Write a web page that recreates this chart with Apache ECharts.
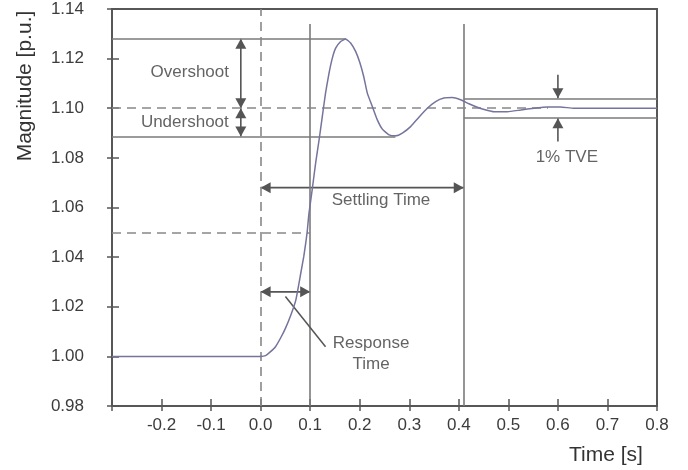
<!DOCTYPE html>
<html><head><meta charset="utf-8">
<script src="https://cdn.jsdelivr.net/npm/echarts@6/dist/echarts.min.js"></script>
<style>html,body{margin:0;padding:0;background:#fff}#c{width:688px;height:470px}</style>
</head><body><div id="c"></div>
<script>
// ---- data ----
const timeS = [-0.3, 0.0, 0.01, 0.02, 0.03, 0.04, 0.05, 0.061, 0.071, 0.081, 0.087, 0.091, 0.094, 0.0975, 0.104, 0.111, 0.118, 0.1245, 0.131, 0.138, 0.1447, 0.1514, 0.1615, 0.1715, 0.1816, 0.1917, 0.2, 0.208, 0.2153, 0.2254, 0.2355, 0.2456, 0.259, 0.2725, 0.286, 0.3027, 0.3195, 0.3364, 0.3532, 0.37, 0.3869, 0.4036, 0.4204, 0.4373, 0.455, 0.471, 0.498, 0.525, 0.552, 0.579, 0.605, 0.632, 0.8];
const magnitude = [1.000, 1.000, 1.0003, 1.0019, 1.0039, 1.0073, 1.0113, 1.0167, 1.0227, 1.0335, 1.0402, 1.0456, 1.0503, 1.0575, 1.0671, 1.0779, 1.0873, 1.0967, 1.1061, 1.1141, 1.1202, 1.1242, 1.1269, 1.1279, 1.1263, 1.1229, 1.1185, 1.1128, 1.1061, 1.1007, 1.0953, 1.0916, 1.0893, 1.0889, 1.0900, 1.0926, 1.0964, 1.1000, 1.1027, 1.1041, 1.1043, 1.1034, 1.1018, 1.1004, 1.0993, 1.0986, 1.0986, 1.0993, 1.1000, 1.1005, 1.1005, 1.1000, 1.1000];

const xRange = [-0.3, 0.8], xStep = 0.1;
const yRange = [0.98, 1.14], yStep = 0.02;

// guide segments [x1, y1, x2, y2]
const solidGuides = [
  [-0.3, 1.128, 0.172, 1.128],
  [-0.3, 1.0886, 0.272, 1.0886],
  [0.41, 1.104, 0.8, 1.104],
  [0.41, 1.096, 0.8, 1.096],
  [0.1, 0.98, 0.1, 1.134],
  [0.41, 0.98, 0.41, 1.134]
];
const dashedGuides = [
  [-0.3, 1.10, 0.58, 1.10],
  [-0.3, 1.05, 0.1, 1.05],
  [0.0, 0.98, 0.0, 1.14]
];
// arrows [x1, y1, x2, y2, headAtStart(0/1)]
const arrows = [
  [-0.04, 1.128, -0.04, 1.10, 1],
  [-0.04, 1.10, -0.04, 1.0886, 1],
  [0.0, 1.068, 0.41, 1.068, 1],
  [0.0, 1.026, 0.1, 1.026, 1],
  [0.6, 1.1135, 0.6, 1.104, 0],
  [0.6, 1.0866, 0.6, 1.096, 0]
];
const leaderLine = [0.05, 1.0241, 0.131, 1.0039];

const noteTexts = ['Overshoot', 'Undershoot', 'Settling Time', 'Response\nTime', '1% TVE'];
const noteX = [-0.143, -0.153, 0.243, 0.223, 0.618];
const noteY = [1.1146, 1.0943, 1.0628, 1.0009, 1.0802];

const yName = 'Magnitude [p.u.]';
const xName = 'Time [s]';

// ---- chart ----
const chart = echarts.init(document.getElementById('c'), null, {renderer: 'canvas'});
const axisColor = '#575757';
const guideColor = '#7a7a7a';
const textColor = '#3c3c3c';
const seg = s => [{coord: [s[0], s[1]]}, {coord: [s[2], s[3]]}];

function baseX(inner) {
  return {
    type: 'value', min: xRange[0], max: xRange[1], interval: xStep, position: 'bottom',
    axisLine: {show: !inner, onZero: false, lineStyle: {color: axisColor, width: 2}},
    axisTick: {show: true, inside: inner, length: inner ? 7 : 5, lineStyle: {color: axisColor, width: 1.5}},
    axisLabel: {show: !inner, margin: 11, color: textColor, fontSize: 17, fontFamily: 'Liberation Sans, Arial, sans-serif',
      formatter: v => (v < xRange[0] + xStep / 2 ? '' : v.toFixed(1))},
    splitLine: {show: false}
  };
}
function baseY(inner) {
  return {
    type: 'value', min: yRange[0], max: yRange[1], interval: yStep, position: 'left',
    axisLine: {show: !inner, onZero: false, lineStyle: {color: axisColor, width: 2}},
    axisTick: {show: true, inside: inner, length: inner ? 7 : 5, lineStyle: {color: axisColor, width: 1.5}},
    axisLabel: {show: !inner, margin: 28, color: textColor, fontSize: 17, fontFamily: 'Liberation Sans, Arial, sans-serif',
      formatter: v => v.toFixed(2)},
    splitLine: {show: false}
  };
}

function head(tip, from, len, half) {
  const dx = tip[0] - from[0], dy = tip[1] - from[1];
  const d = Math.sqrt(dx * dx + dy * dy) || 1;
  const ux = dx / d, uy = dy / d;
  const bx = tip[0] - ux * len, by = tip[1] - uy * len;
  return {type: 'polygon', shape: {points: [tip, [bx - uy * half, by + ux * half], [bx + uy * half, by - ux * half]]},
    style: {fill: '#555'}};
}

const option = {
  animation: false,
  backgroundColor: '#fff',
  grid: {left: 112, top: 9, right: 31, bottom: 64, show: true, borderColor: axisColor, borderWidth: 2},
  xAxis: [baseX(false), baseX(true)],
  yAxis: [baseY(false), baseY(true)],
  graphic: [
    {type: 'text', x: 25, y: 86, rotation: Math.PI / 2,
      style: {text: yName, fill: '#333', font: '21px "Liberation Sans", Arial, sans-serif', textAlign: 'center', textVerticalAlign: 'middle'}},
    {type: 'text', x: 606, y: 455,
      style: {text: xName, fill: '#333', font: '21px "Liberation Sans", Arial, sans-serif', textAlign: 'center', textVerticalAlign: 'middle'}}
  ],
  series: [
    {
      type: 'line', name: 'solid guides', data: [], silent: true,
      markLine: {silent: true, symbol: 'none', label: {show: false},
        lineStyle: {color: guideColor, width: 1.6, type: 'solid'},
        emphasis: {disabled: true},
        data: solidGuides.map(seg)}
    },
    {
      type: 'line', name: 'dashed guides', data: [], silent: true,
      markLine: {silent: true, symbol: 'none', label: {show: false},
        lineStyle: {color: '#888', width: 1.6, type: [9, 6]},
        emphasis: {disabled: true},
        data: dashedGuides.map(seg)}
    },
    {
      type: 'line', name: 'leader', data: [], silent: true,
      markLine: {silent: true, symbol: 'none', label: {show: false},
        lineStyle: {color: '#555', width: 1.5, type: 'solid'},
        emphasis: {disabled: true},
        data: [seg(leaderLine)]}
    },
    {
      type: 'custom', name: 'arrows', silent: true, z: 4,
      data: arrows,
      encode: {x: [0, 2], y: [1, 3]},
      renderItem: (params, api) => {
        const p1 = api.coord([api.value(0), api.value(1)]);
        const p2 = api.coord([api.value(2), api.value(3)]);
        const both = api.value(4) > 0;
        const children = [
          {type: 'line', shape: {x1: p1[0], y1: p1[1], x2: p2[0], y2: p2[1]}, style: {stroke: '#555', lineWidth: 1.6}},
          head(p2, p1, 10, 5.5)
        ];
        if (both) children.push(head(p1, p2, 10, 5.5));
        return {type: 'group', children};
      }
    },
    {
      type: 'line', name: 'response', data: timeS.map((t, i) => [t, magnitude[i]]),
      symbol: 'none', smooth: 0.15, z: 5,
      lineStyle: {color: '#74749c', width: 1.5}
    },
    {
      type: 'scatter', name: 'notes', symbolSize: 0, silent: true,
      data: noteTexts.map((t, i) => [noteX[i], noteY[i], t]),
      label: {show: true, position: 'inside', formatter: p => p.value[2], color: textColor, fontSize: 17,
        fontFamily: 'Liberation Sans, Arial, sans-serif', lineHeight: 21, align: 'center', verticalAlign: 'middle'}
    }
  ]
};
chart.setOption(option);
</script>
</body></html>
